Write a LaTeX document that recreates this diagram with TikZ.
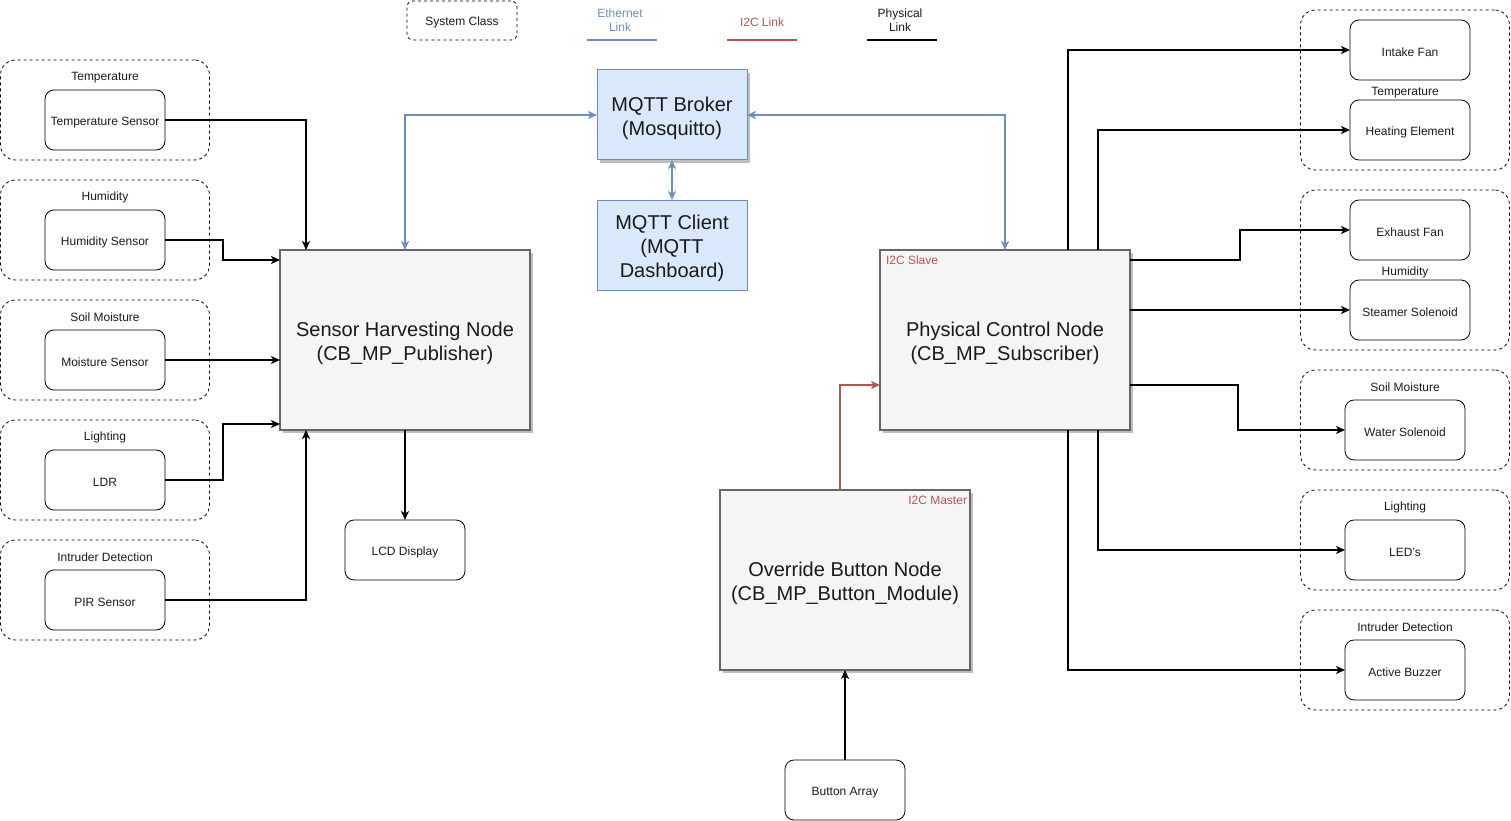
\documentclass[tikz,border=0pt]{standalone}
\usepackage{fontspec}
\setmainfont{Liberation Sans}
\usetikzlibrary{arrows.meta,shadows}
\definecolor{bluel}{HTML}{6C8EBF}
\definecolor{bluef}{HTML}{DAE8FC}
\definecolor{redl}{HTML}{B85450}
\definecolor{grayf}{HTML}{F5F5F5}
\definecolor{grayl}{HTML}{666666}
\definecolor{txt}{HTML}{1A1A1A}
\newcommand\bigstrut{\rule{0pt}{20.3pt}}
\tikzset{
  every node/.style={inner sep=0pt, outer sep=0pt},
  small/.style={font=\fontsize{12}{14.4}\selectfont, text=txt, execute at begin node={\rule{0pt}{12.8pt}}},
  tag/.style={font=\fontsize{12}{14.4}\selectfont, text=redl},
  large/.style={font=\fontsize{20}{24}\selectfont, text=txt},
  grp/.style={draw, line width=0.8pt, dash pattern=on 3pt off 3pt, rounded corners=15pt, minimum width=209pt},
  dev/.style={small, draw, line width=0.8pt, rounded corners=9pt, minimum width=120pt, minimum height=60pt, align=center},
  big/.style={large, draw=grayl, fill=grayf, line width=1.6pt, minimum width=250pt, minimum height=180pt, align=center,
              drop shadow={shadow xshift=3pt, shadow yshift=-3pt, fill=black, opacity=0.25}},
  mq/.style={large, draw=bluel, fill=bluef, line width=1pt, minimum width=150pt, minimum height=90pt, align=center},
  tip/.style={-{Stealth[length=9pt,width=8pt,inset=2.5pt]}},
  phys/.style={tip, line width=1.6pt, black},
  eth/.style={{Stealth[length=9pt,width=8pt,inset=2.5pt]}-{Stealth[length=9pt,width=8pt,inset=2.5pt]}, line width=1.6pt, bluel},
  i2c/.style={tip, line width=1.6pt, redl},
}
\begin{document}
\begin{tikzpicture}[x=1pt,y=-1pt]
\useasboundingbox (0,0) rectangle (1511,821);

% legend
\node[small, draw, line width=0.8pt, dash pattern=on 3pt off 3pt, rounded corners=6pt, minimum width=110pt, minimum height=39pt] (sysc) at (462,20.5) {System Class};
\node[small, text=bluel, align=center] (lege) at (620,20) {Ethernet\\Link};
\node[small, text=redl] (legi) at (762,20) {I2C Link};
\node[small, align=center] (legp) at (900,20) {Physical\\Link};
\coordinate (e1) at (587,40); \coordinate (e2) at (657,40);
\coordinate (i1) at (727,40); \coordinate (i2) at (797,40);
\coordinate (p1) at (867,40); \coordinate (p2) at (937,40);
\draw[bluel, line width=1.6pt] (e1) -- (e2);
\draw[redl, line width=1.6pt] (i1) -- (i2);
\draw[black, line width=1.6pt] (p1) -- (p2);

% left groups
\node[grp, minimum height=100pt] (lg1) at (105,110) {};
\node[grp, minimum height=100pt] (lg2) at (105,230) {};
\node[grp, minimum height=100pt] (lg3) at (105,350) {};
\node[grp, minimum height=100pt] (lg4) at (105,470) {};
\node[grp, minimum height=100pt] (lg5) at (105,590) {};
\node[small] (lg1l) at (105,75) {Temperature};
\node[small] (lg2l) at (105,195) {Humidity};
\node[small] (lg3l) at (105,315) {Soil Moisture};
\node[small] (lg4l) at (105,435) {Lighting};
\node[small] (lg5l) at (105,555) {Intruder Detection};
\node[dev] (ts) at (105,120) {Temperature Sensor};
\node[dev] (hs) at (105,240) {Humidity Sensor};
\node[dev] (ms) at (105,360) {Moisture Sensor};
\node[dev] (ldr) at (105,480) {LDR};
\node[dev] (pir) at (105,600) {PIR Sensor};

% right groups
\node[grp, minimum height=160pt] (rg1) at (1405,90) {};
\node[grp, minimum height=160pt] (rg2) at (1405,270) {};
\node[grp, minimum height=100pt] (rg3) at (1405,420) {};
\node[grp, minimum height=100pt] (rg4) at (1405,540) {};
\node[grp, minimum height=100pt] (rg5) at (1405,660) {};
\node[small] (rg1l) at (1405,90) {Temperature};
\node[small] (rg2l) at (1405,270) {Humidity};
\node[small] (rg3l) at (1405,385) {Soil Moisture};
\node[small] (rg4l) at (1405,505) {Lighting};
\node[small] (rg5l) at (1405,625) {Intruder Detection};
\node[dev] (fan) at (1410,50) {Intake Fan};
\node[dev] (heat) at (1410,130) {Heating Element};
\node[dev] (exh) at (1410,230) {Exhaust Fan};
\node[dev] (steam) at (1410,310) {Steamer Solenoid};
\node[dev] (water) at (1405,430) {Water Solenoid};
\node[dev] (led) at (1405,550) {LED's};
\node[dev] (buz) at (1405,670) {Active Buzzer};

% central nodes
\node[big] (shn) at (405,340) {\bigstrut Sensor Harvesting Node\\(CB\_MP\_Publisher)};
\node[big] (pcn) at (1005,340) {\bigstrut Physical Control Node\\(CB\_MP\_Subscriber)};
\node[big] (obn) at (845,580) {\bigstrut Override Button Node\\(CB\_MP\_Button\_Module)};
\node[mq, drop shadow={shadow xshift=3pt, shadow yshift=-3pt, fill=black, opacity=0.25}] (brk) at (672,115) {\bigstrut MQTT Broker\\(Mosquitto)};
\node[mq] (cli) at (672,245) {\bigstrut MQTT Client\\(MQTT\\Dashboard)};
\node[dev] (lcd) at (405,550) {LCD Display};
\node[dev] (btn) at (845,790) {Button Array};
\node[tag, anchor=west] (slv) at (886,260) {I2C Slave};
\node[tag, anchor=east] (mst) at (967,500) {I2C Master};

% physical links (left)
\draw[phys] (ts.east) -| ([xshift=-99pt]shn.north);
\draw[phys] (hs.east) -- ++(58,0) |- ([yshift=-10pt]shn.north west);
\draw[phys] (ms.east) -- (ms.east -| shn.west);
\draw[phys] (ldr.east) -- ++(58,0) |- ([yshift=6pt]shn.south west);
\draw[phys] (pir.east) -| ([xshift=-99pt]shn.south);
\draw[phys] (shn.south) -- (lcd.north);

% ethernet
\draw[eth] (brk.west) -| (shn.north);
\draw[eth] (brk.east) -| (pcn.north);
\draw[eth] (brk.south) -- (cli.north);

% i2c
\draw[i2c] ([xshift=-5pt]obn.north) |- ([yshift=-45pt]pcn.west);
\draw[phys] (btn.north) -- (obn.south);

% physical links (right)
\draw[phys] ([xshift=63pt]pcn.north) |- (fan.west);
\draw[phys] ([xshift=93pt]pcn.north) |- (heat.west);
\draw[phys] ([yshift=-10pt]pcn.north east) -- ++(110,0) |- (exh.west);
\draw[phys] (steam.west -| pcn.east) -- (steam.west);
\draw[phys] ([yshift=-45pt]pcn.east) -- ++(108,0) |- (water.west);
\draw[phys] ([xshift=93pt]pcn.south) |- (led.west);
\draw[phys] ([xshift=63pt]pcn.south) |- (buz.west);
\end{tikzpicture}
\end{document}
